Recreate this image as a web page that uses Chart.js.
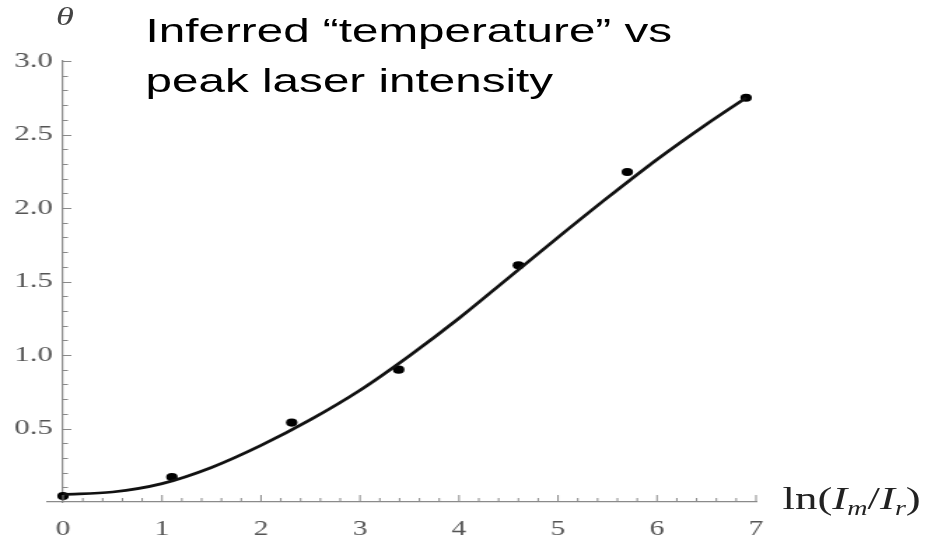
<!DOCTYPE html>
<html>
<head>
<meta charset="utf-8">
<script src="https://cdn.jsdelivr.net/npm/chart.js@4"></script>
<style>
  html, body { margin: 0; padding: 0; background: #fff; overflow: hidden; }
  #wrap { position: relative; width: 662px; height: 539px; transform: scaleX(1.4); transform-origin: 0 0; }
  #c { position: absolute; left: 0; top: 0; }
  .title { position: absolute; left: 104px; top: 5px; font-family: "Liberation Sans", Arial, sans-serif; font-size: 34px; line-height: 50px; color: #000; white-space: nowrap; }
  .ylab { position: absolute; left: 40px; top: 2px; font-family: "Liberation Serif", serif; font-style: italic; font-size: 26px; color: #444; }
  .xlab { position: absolute; left: 559px; top: 480px; font-family: "Liberation Serif", serif; font-size: 32px; color: #222; white-space: nowrap; }
  .xlab i { font-style: italic; }
  .xlab sub { font-size: 20px; vertical-align: -6px; }
</style>
</head>
<body>
<div id="wrap">
  <canvas id="c" width="662" height="539" style="width:662px;height:539px"></canvas>
  <div class="title">Inferred “temperature” vs<br>peak laser intensity</div>
  <div class="ylab">θ</div>
  <div class="xlab">ln(<i>I</i><sub><i>m</i></sub>/<i>I</i><sub><i>r</i></sub>)</div>
</div>
<script>
// Measured points: ln(Im/Ir) and inferred temperature theta
const pointX = [0.00, 1.10, 2.31, 3.39, 4.60, 5.70, 6.90];
const pointY = [0.04, 0.17, 0.54, 0.90, 1.61, 2.245, 2.75];

// Fitted curve
const curveX = [0.0, 0.5, 1.0, 1.5, 2.0, 2.5, 3.0, 3.5, 4.0, 4.5, 5.0, 5.5, 6.0, 6.5, 6.9];
const curveY = [0.052, 0.068, 0.125, 0.235, 0.385, 0.56, 0.76, 0.995, 1.25, 1.525, 1.80, 2.07, 2.33, 2.57, 2.75];

// Axis ticks
const xMajorTicks = [0, 1, 2, 3, 4, 5, 6, 7];
const yMajorTicks = [0.5, 1.0, 1.5, 2.0, 2.5, 3.0];
const xMinorPerMajor = 5;
const yMinorPerMajor = 5;

const axisColor = '#8a8a8a';
const labelColor = '#555';

const tickMarks = {
  id: 'tickMarks',
  afterDraw(chart) {
    const ctx = chart.ctx;
    const xs = chart.scales.x, ys = chart.scales.y;
    const x0 = xs.getPixelForValue(0), y0 = ys.getPixelForValue(0);
    ctx.save();
    ctx.strokeStyle = axisColor;
    ctx.lineWidth = 1;
    for (let i = 0; i < xMajorTicks.length; i++) {
      const a = xMajorTicks[i];
      const px = xs.getPixelForValue(a);
      ctx.beginPath(); ctx.moveTo(px, y0); ctx.lineTo(px, y0 - 7); ctx.stroke();
      if (i < xMajorTicks.length - 1) {
        const step = (xMajorTicks[i + 1] - a) / xMinorPerMajor;
        for (let k = 1; k < xMinorPerMajor; k++) {
          const qx = xs.getPixelForValue(a + k * step);
          ctx.beginPath(); ctx.moveTo(qx, y0); ctx.lineTo(qx, y0 - 4); ctx.stroke();
        }
      }
    }
    const yAll = [0].concat(yMajorTicks);
    for (let i = 0; i < yAll.length; i++) {
      const a = yAll[i];
      const py = Math.round(ys.getPixelForValue(a)) + 0.5;
      if (i > 0) { ctx.beginPath(); ctx.moveTo(x0, py); ctx.lineTo(x0 + 6, py); ctx.stroke(); }
      if (i < yAll.length - 1) {
        const step = (yAll[i + 1] - a) / yMinorPerMajor;
        for (let k = 1; k < yMinorPerMajor; k++) {
          const qy = Math.round(ys.getPixelForValue(a + k * step)) + 0.5;
          ctx.beginPath(); ctx.moveTo(x0, qy); ctx.lineTo(x0 + 3.5, qy); ctx.stroke();
        }
      }
    }
    ctx.restore();
  }
};

new Chart(document.getElementById('c'), {
  type: 'scatter',
  data: {
    datasets: [
      {
        type: 'line',
        data: curveX.map((x, i) => ({ x, y: curveY[i] })),
        borderColor: '#111',
        borderWidth: 2.7,
        pointRadius: 0,
        cubicInterpolationMode: 'monotone',
        fill: false
      },
      {
        data: pointX.map((x, i) => ({ x, y: pointY[i] })),
        backgroundColor: '#000',
        borderColor: '#000',
        pointRadius: 4.1,
        pointBorderWidth: 0
      }
    ]
  },
  plugins: [tickMarks],
  options: {
    responsive: false,
    animation: false,
    devicePixelRatio: 1,
    layout: { padding: { left: 33.7, right: 122, top: 61, bottom: 37 } },
    plugins: { legend: { display: false }, tooltip: { enabled: false }, title: { display: false } },
    scales: {
      x: {
        type: 'linear',
        min: -0.16,
        max: 7,
        position: { y: 0 },
        afterBuildTicks: (s) => { s.ticks = xMajorTicks.map(v => ({ value: v })); },
        ticks: { color: labelColor, font: { family: 'Liberation Serif', size: 21 }, padding: 15, callback: (v) => String(v) },
        grid: { display: true, drawOnChartArea: false, drawTicks: false },
        border: { display: true, color: axisColor, width: 1.2 }
      },
      y: {
        type: 'linear',
        min: 0,
        max: 3,
        position: { x: 0 },
        afterBuildTicks: (s) => { s.ticks = yMajorTicks.map(v => ({ value: v })); },
        ticks: { color: labelColor, font: { family: 'Liberation Serif', size: 22 }, padding: 13, callback: (v) => Number(v).toFixed(1) + ' \u200A' },
        grid: { display: true, drawOnChartArea: false, drawTicks: false },
        border: { display: true, color: axisColor, width: 1.2 }
      }
    }
  }
});
</script>
</body>
</html>
